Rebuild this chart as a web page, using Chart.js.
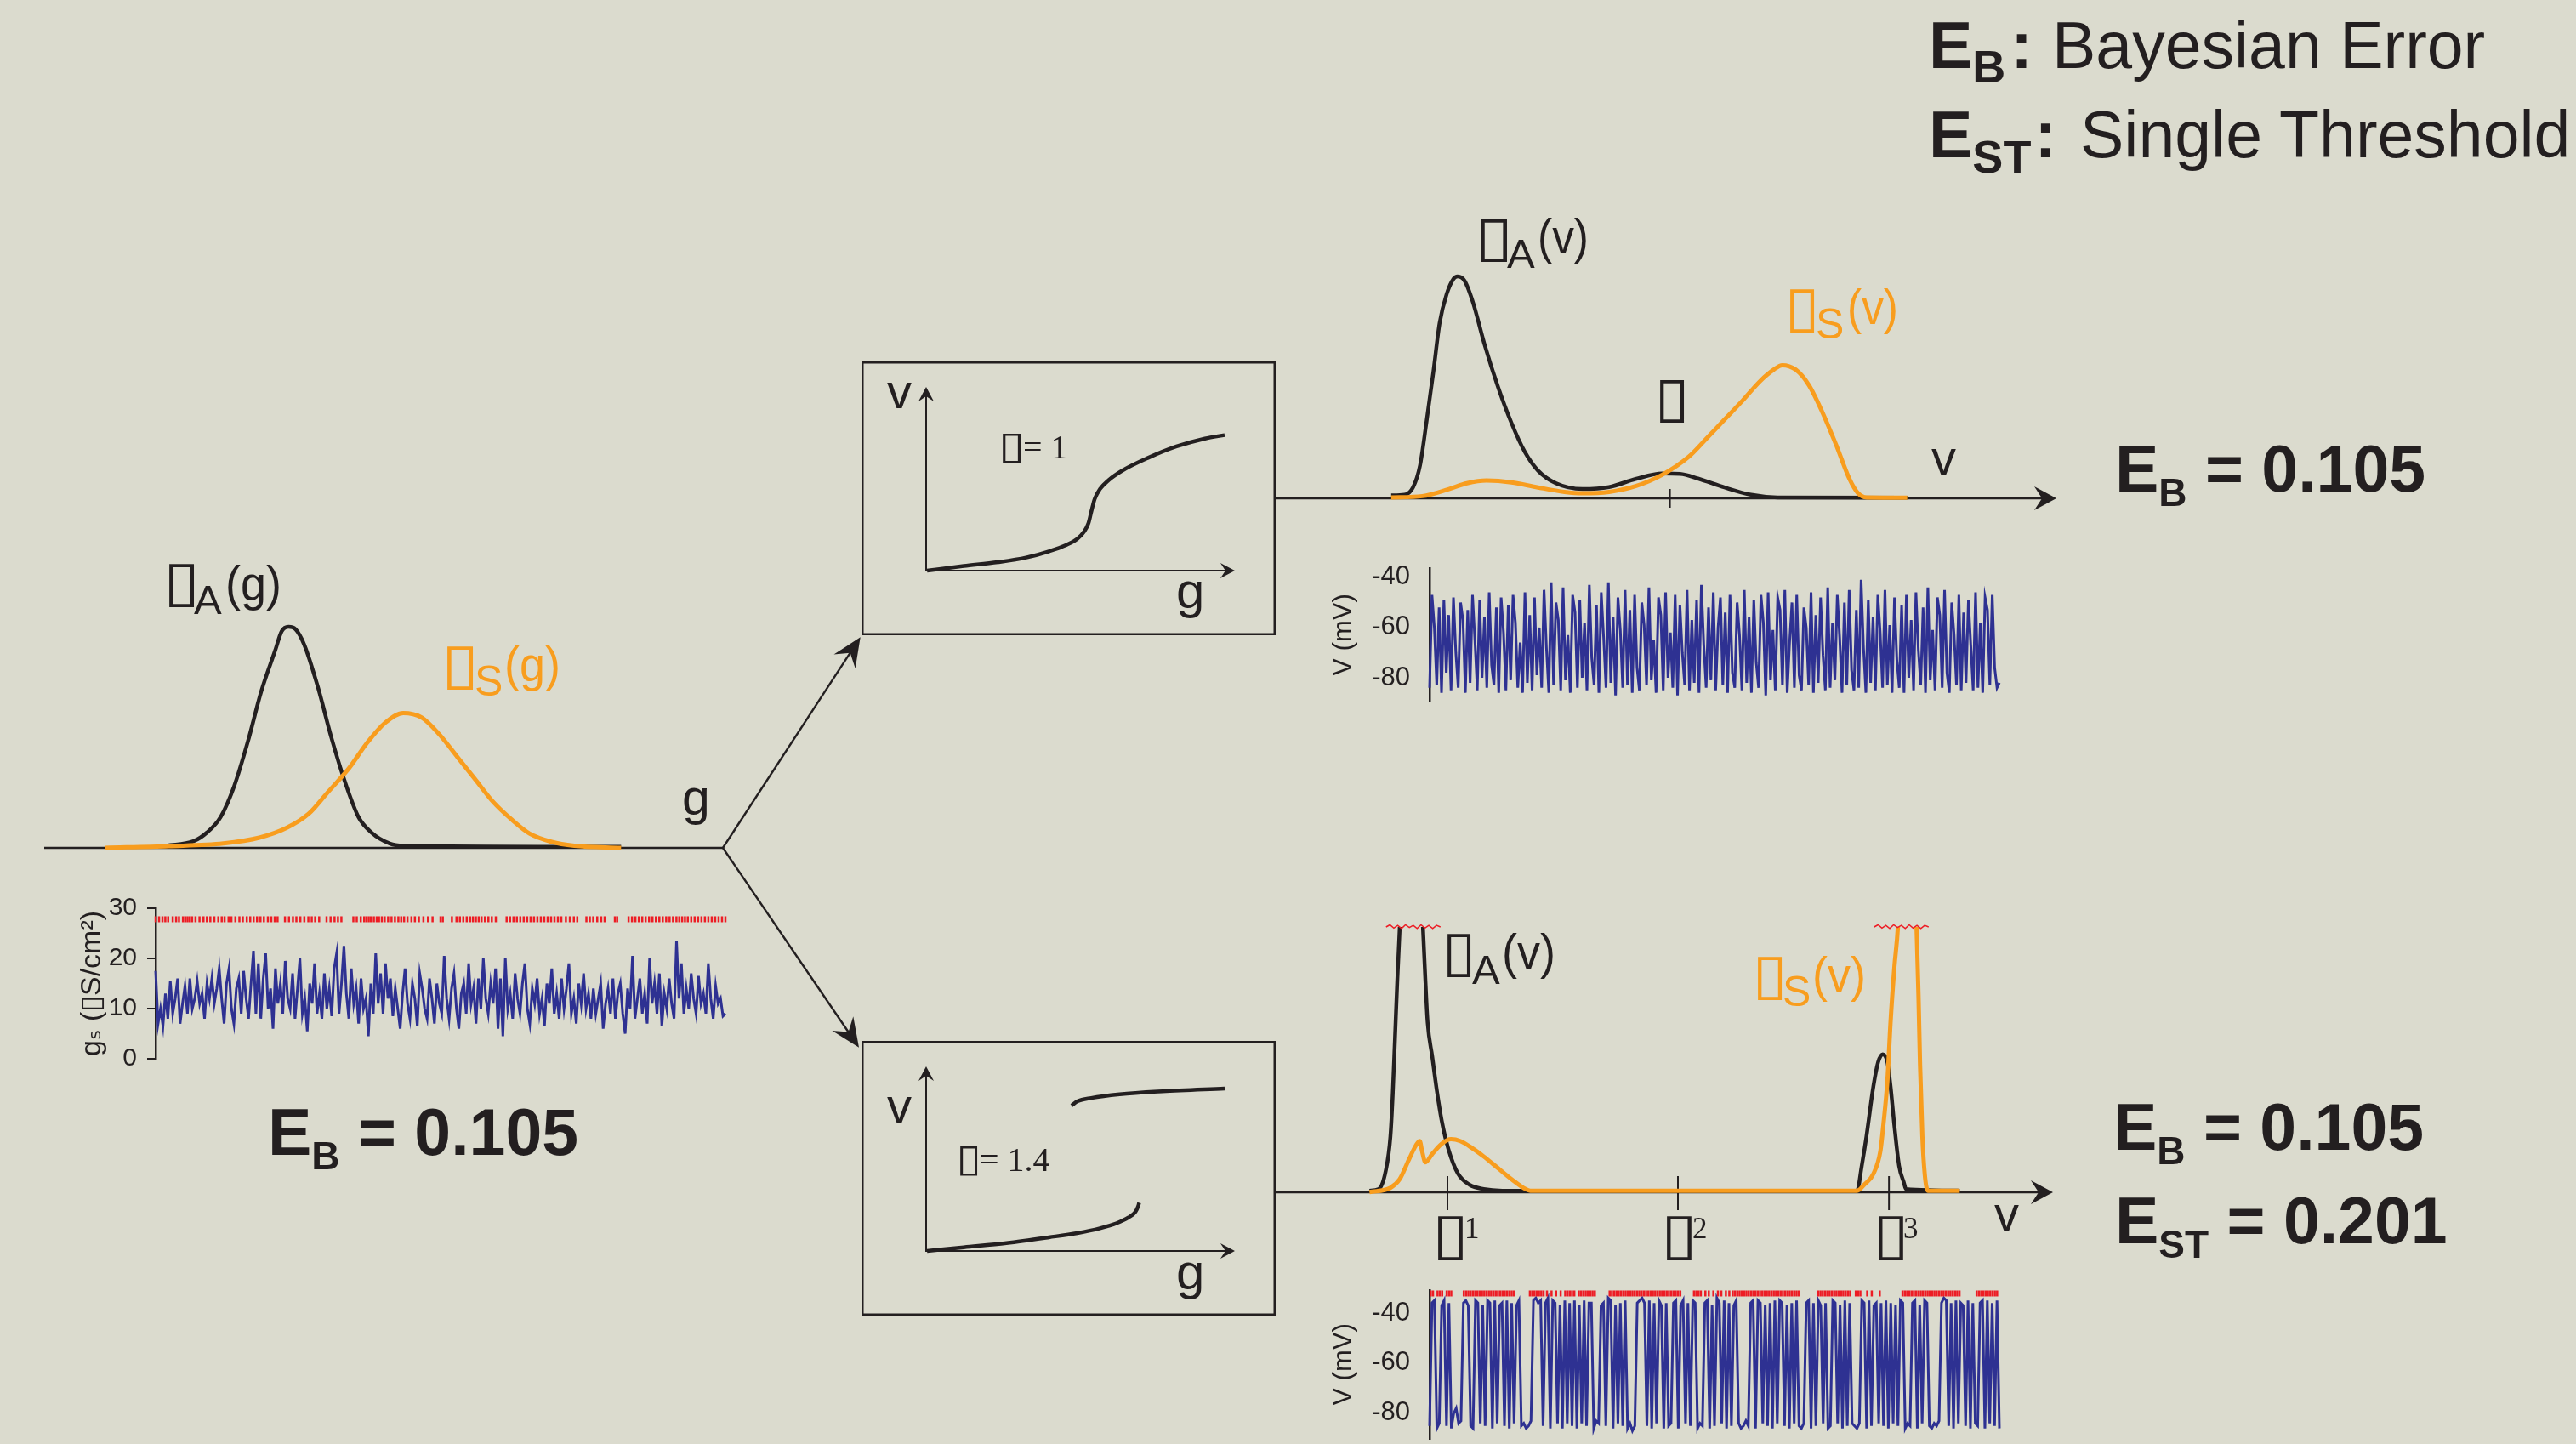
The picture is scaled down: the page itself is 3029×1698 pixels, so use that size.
<!DOCTYPE html>
<html>
<head>
<meta charset="utf-8">
<title>Bayesian error vs single threshold</title>
<script src="https://cdn.jsdelivr.net/npm/chart.js@4.4.1/dist/chart.umd.min.js"></script>
<style>
  html, body { margin: 0; padding: 0; }
  body { width: 3029px; height: 1698px; background: #DBDBCE; position: relative; overflow: hidden; }
  .panel { position: absolute; }
  #overlay { position: absolute; left: 0; top: 0; z-index: 2; pointer-events: none; }
  #overlay text { font-family: "Liberation Sans", Arial, "DejaVu Sans", sans-serif; fill: #231F20; }
  #overlay text.orange { fill: #F89D1E; }
  #overlay text.serif { font-family: "Liberation Serif", "Times New Roman", serif; }
</style>
</head>
<body>
<div class="panel" id="leftDist" style="left:40px;top:700px;width:830px;height:320px"></div>
<div class="panel" id="leftTrace" style="left:80px;top:1030px;width:790px;height:255px"></div>
<div class="panel" id="topBox" style="left:1013px;top:425px;width:487px;height:322px"></div>
<div class="panel" id="bottomBox" style="left:1013px;top:1224px;width:487px;height:323px"></div>
<div class="panel" id="topDist" style="left:1500px;top:230px;width:940px;height:380px"></div>
<div class="panel" id="bottomDist" style="left:1500px;top:1060px;width:940px;height:380px"></div>
<div class="panel" id="topTrace" style="left:1550px;top:620px;width:810px;height:250px"></div>
<div class="panel" id="bottomTrace" style="left:1550px;top:1470px;width:810px;height:270px"></div>

<svg id="overlay" width="3029" height="1698" xmlns="http://www.w3.org/2000/svg">
  <!-- legend -->
  <text x="2268" y="80" font-size="77" font-weight="bold">E<tspan font-size="54" dy="17">B</tspan><tspan dx="6" dy="-17">:</tspan></text>
  <text x="2413" y="80" font-size="77">Bayesian Error</text>
  <text x="2268" y="185" font-size="77" font-weight="bold">E<tspan font-size="54" dy="18">ST</tspan><tspan dx="4" dy="-18">:</tspan></text>
  <text x="2446" y="185" font-size="77">Single Threshold</text>

  <!-- error values -->
  <text x="315" y="1358" font-size="77" font-weight="bold">E<tspan font-size="46" dy="17">B</tspan><tspan dy="-17"> = 0.105</tspan></text>
  <text x="2487" y="578" font-size="77" font-weight="bold">E<tspan font-size="46" dy="17">B</tspan><tspan dy="-17"> = 0.105</tspan></text>
  <text x="2485" y="1352" font-size="77" font-weight="bold">E<tspan font-size="46" dy="17">B</tspan><tspan dy="-17"> = 0.105</tspan></text>
  <text x="2487" y="1462" font-size="77" font-weight="bold">E<tspan font-size="46" dy="17">ST</tspan><tspan dy="-17"> = 0.201</tspan></text>

  <!-- left distribution labels -->
  <text x="228" y="722" font-size="49">A</text>
  <text x="265" y="706" font-size="58" textLength="66" lengthAdjust="spacingAndGlyphs">(g)</text>
  <text class="orange" x="558" y="818" font-size="50">S</text>
  <text class="orange" x="593" y="801" font-size="58" textLength="66" lengthAdjust="spacingAndGlyphs">(g)</text>
  <text x="802" y="958" font-size="59">g</text>

  <!-- transfer boxes -->
  <text x="1043" y="480" font-size="58">v</text>
  <text class="serif" x="1203" y="539" font-size="40">= 1</text>
  <text x="1383" y="715" font-size="60">g</text>
  <text x="1043" y="1320" font-size="58">v</text>
  <text class="serif" x="1152" y="1377" font-size="40">= 1.4</text>
  <text x="1383" y="1516" font-size="60">g</text>

  <!-- top right distribution labels -->
  <text x="1772" y="315" font-size="49">A</text>
  <text x="1808" y="298" font-size="58" textLength="60" lengthAdjust="spacingAndGlyphs">(v)</text>
  <text class="orange" x="2135" y="398" font-size="50">S</text>
  <text class="orange" x="2172" y="381" font-size="58" textLength="60" lengthAdjust="spacingAndGlyphs">(v)</text>
  <text x="2271" y="558" font-size="58">v</text>

  <!-- bottom right distribution labels -->
  <text x="1731" y="1157" font-size="49">A</text>
  <text x="1766" y="1139" font-size="58" textLength="63" lengthAdjust="spacingAndGlyphs">(v)</text>
  <text class="orange" x="2096" y="1183" font-size="50">S</text>
  <text class="orange" x="2131" y="1166" font-size="58" textLength="63" lengthAdjust="spacingAndGlyphs">(v)</text>
  <text class="serif" x="1722" y="1456" font-size="35">1</text>
  <text class="serif" x="1990" y="1456" font-size="35">2</text>
  <text class="serif" x="2238" y="1456" font-size="35">3</text>
  <text x="2345" y="1447" font-size="58">v</text>

  <!-- fork arrows -->
  <line x1="850" y1="997" x2="999.7" y2="767.7" stroke="#231F20" stroke-width="2.4"/>
  <polygon points="1011.7,749.3 1005.7,786 999.7,767.7 980.5,769.6" fill="#231F20"/>
  <line x1="850" y1="997" x2="997.6" y2="1213.5" stroke="#231F20" stroke-width="2.4"/>
  <polygon points="1010,1231.7 978.5,1212 997.6,1213.5 1003.3,1195.2" fill="#231F20"/>
</svg>

<script>
// ---- data ----
// left: conductance distributions (arbitrary g units, peak of rho_A = 1)
const gAX = [18, 22, 24, 26, 28, 30, 32, 34, 35, 36, 37, 38.3, 40.3, 42.3, 44.3, 46.3, 48.2, 50.9, 52.9, 85];
const gAY = [0.01, 0.03, 0.07, 0.14, 0.28, 0.48, 0.71, 0.89, 0.98, 1.0, 0.99, 0.92, 0.73, 0.5, 0.3, 0.14, 0.07, 0.02, 0.01, 0.005];
const gSX = [9, 18.4, 26.4, 31.7, 35.7, 39, 41.6, 44.9, 47.6, 50.2, 52.9, 55.6, 58.2, 60.9, 63.5, 66.2, 68.8, 71.5, 74.8, 78.1, 85];
const gSY = [0, 0.008, 0.02, 0.046, 0.09, 0.155, 0.245, 0.36, 0.476, 0.565, 0.61, 0.59, 0.514, 0.41, 0.31, 0.206, 0.13, 0.065, 0.027, 0.01, 0];

// transfer functions v(g), beta = 1 and beta = 1.4
const tf1X = [0.3, 12.2, 23.2, 32.4, 39.8, 45.3, 49.0, 51.2, 52.6, 53.5, 54.6, 56.3, 59.0, 63.6, 71.9, 81.1, 90.3, 96.7];
const tf1Y = [0, 2.5, 4.6, 7.1, 10.5, 13.9, 17.4, 21.3, 25.9, 32.1, 39.0, 44.4, 49.1, 54.5, 61.4, 67.6, 71.9, 73.8];
const tfLowX = [0.3, 12.2, 26.0, 39.8, 49.0, 56.3, 61.8, 65.5, 67.8, 68.7, 69.0];
const tfLowY = [0, 2.0, 4.3, 7.4, 9.7, 12.3, 15.1, 18.1, 21.2, 24.3, 26.1];
const tfHighX = [47.1, 49.0, 53.5, 62.7, 76.5, 96.7];
const tfHighY = [78.8, 81.1, 82.9, 84.9, 86.5, 88.0];

// top right: voltage distributions, beta = 1
const vAX = [14.8, 16.5, 17.6, 18.5, 19.3, 20.2, 21.0, 21.9, 22.8, 23.3, 24.2, 25.3, 26.7, 28.5, 30.2, 31.9, 33.6, 35.9, 39.3, 42.7, 46.1, 49.5, 51.8, 54.1, 57.5, 60.9, 64.3, 80.9];
const vAY = [0.013, 0.016, 0.05, 0.15, 0.34, 0.57, 0.79, 0.92, 0.99, 1.0, 0.98, 0.88, 0.70, 0.50, 0.34, 0.21, 0.125, 0.068, 0.042, 0.051, 0.087, 0.112, 0.11, 0.089, 0.049, 0.016, 0.004, 0.003];
const vSX = [14.8, 18.8, 22.2, 24.5, 27.0, 30.2, 33.6, 37.0, 39.3, 42.7, 46.1, 49.5, 53.0, 55.2, 57.5, 59.8, 62.1, 63.8, 64.9, 66.6, 68.3, 70.0, 71.8, 73.5, 74.6, 75.7, 80.9];
const vSY = [0.004, 0.01, 0.042, 0.068, 0.08, 0.072, 0.049, 0.029, 0.023, 0.029, 0.055, 0.106, 0.19, 0.27, 0.355, 0.44, 0.53, 0.58, 0.6, 0.58, 0.51, 0.39, 0.24, 0.087, 0.023, 0.004, 0.003];
const thetaTop = [50.5];

// bottom right: voltage distributions, beta = 1.4 (peaks run off the top)
const wAX = [12.06, 13.25, 14.16, 14.76, 15.06, 15.35, 15.65, 15.95, 16.6, 17.45, 18.3, 18.96, 19.26, 19.55, 20.15, 20.75, 21.36, 22.25, 23.46, 24.96, 26.76, 29.16, 74.8, 75.4, 76.0, 76.9, 77.5, 78.1, 78.7, 79.1, 79.6, 80.2, 80.8, 81.1, 88.0];
const wAY = [0.006, 0.012, 0.081, 0.21, 0.37, 0.58, 0.80, 0.99, 1.5, 1.7, 1.5, 0.99, 0.80, 0.64, 0.51, 0.38, 0.27, 0.16, 0.07, 0.028, 0.012, 0.006, 0.006, 0.10, 0.21, 0.40, 0.49, 0.52, 0.49, 0.40, 0.25, 0.10, 0.038, 0.012, 0.006];
const wSX = [12.06, 14.76, 15.95, 17.15, 18.05, 18.53, 18.83, 19.26, 20.15, 21.36, 22.55, 23.75, 25.25, 26.76, 28.56, 30.36, 32.16, 32.76, 74.8, 75.7, 76.9, 77.8, 78.2, 78.7, 79.1, 79.6, 80.05, 80.8, 81.25, 81.7, 82.45, 82.7, 82.9, 83.2, 83.5, 83.9, 88.0];
const wSY = [0.001, 0.017, 0.049, 0.124, 0.177, 0.193, 0.156, 0.113, 0.145, 0.183, 0.20, 0.193, 0.167, 0.135, 0.092, 0.049, 0.012, 0.006, 0.006, 0.028, 0.07, 0.156, 0.26, 0.42, 0.64, 0.85, 1.0, 1.5, 1.6, 1.5, 1.0, 0.74, 0.48, 0.21, 0.07, 0.006, 0.006];
const thetaBottom = [22.1, 51.75, 78.9];
const cutAX = [14.2, 14.7, 15.2, 15.7, 16.2, 16.7, 17.2, 17.7, 18.2, 18.7, 19.2, 19.7, 20.2, 20.7, 21.2];
const cutBX = [77.0, 77.5, 78.0, 78.5, 79.0, 79.5, 80.0, 80.5, 81.0, 81.5, 82.0, 82.5, 83.0, 83.5, 84.0];
const cutY = [1.0, 1.008, 0.996, 1.006, 0.994, 1.008, 0.998, 1.006, 0.994, 1.008, 0.996, 1.006, 0.994, 1.006, 1.0];

// traces (time 0..1000 across the panel)
const gTicks = [0, 10, 20, 30];
const vTicks = [-80, -60, -40];
const gSpikeLevel = 27.8;
const vSpikeLevel = -32.2;

const gTrace = [
  17.5, 7, 10, 6.5, 13, 8, 15.5, 9, 12, 16, 7, 11, 14.5, 9, 16, 10, 12, 15.5, 11, 13,
  8, 15, 12, 16, 11, 14, 18, 12, 7, 15, 18, 10, 7, 14, 16, 9, 17.5, 12, 8, 15,
  21.5, 9, 19, 8, 16, 21, 10, 14, 6, 18, 11, 15, 9, 19.5, 12, 10, 17, 8, 14, 20,
  9, 12, 5.5, 15, 11, 19, 9, 13, 8, 17, 10, 14, 8.5, 18, 21, 9, 15, 22.5, 13, 8,
  18, 11, 14, 7, 16, 10, 12, 4.5, 15, 9, 21, 11, 17, 9, 19, 12, 16, 8.5, 14, 10,
  6, 13, 18, 11, 8, 15, 12, 6.5, 17, 14, 10, 8, 16, 12, 7, 15, 11, 9, 20.5, 12,
  8, 14, 17, 10, 6, 13, 15, 9, 19, 11, 14, 7, 16, 10, 20, 12, 9, 15, 11, 18,
  6, 16, 4.5, 20, 10, 13, 8, 17, 12, 9, 15, 19, 10, 7, 14, 11, 16, 9, 12, 6.5,
  15, 11, 18, 9, 13, 8, 16, 10, 14, 19, 9, 12, 7, 15, 11, 17, 10, 13, 8, 14,
  9, 12, 15, 6, 11, 14, 9, 16, 8, 13, 15, 9, 5, 14, 10, 20.5, 8, 12, 16, 9,
  13, 7, 20, 11, 15, 9, 17, 6.5, 13, 10, 16, 11, 8, 23.5, 12, 19, 9, 14, 10, 17,
  12, 9, 16.5, 11, 13, 9, 19, 12, 8, 14.5, 11, 12, 8.5, 9
];
const gSpikes = [0, 6, 12, 17, 22, 30, 36, 41, 48, 52, 56, 60, 64, 70, 77, 84, 90, 96, 103, 110, 116, 121, 128, 133, 140, 147, 153, 160, 166, 172, 178, 184, 190, 197, 203, 209, 214, 227, 234, 241, 247, 254, 261, 268, 274, 280, 287, 300, 307, 314, 320, 326, 347, 353, 360, 366, 370, 374, 378, 383, 388, 392, 397, 402, 408, 414, 420, 426, 431, 436, 442, 449, 455, 462, 470, 478, 486, 500, 504, 520, 528, 534, 540, 546, 552, 557, 562, 567, 572, 578, 584, 590, 597, 616, 622, 628, 634, 640, 646, 652, 658, 664, 670, 676, 682, 688, 694, 700, 706, 712, 720, 727, 734, 740, 756, 762, 768, 775, 782, 788, 806, 810, 830, 836, 842, 848, 854, 860, 866, 872, 878, 884, 890, 896, 902, 908, 914, 919, 924, 929, 934, 940, 946, 952, 958, 964, 970, 976, 982, 988, 994, 1000];

const vTraceTop = [
  -84, -47, -60, -83, -52, -86, -49, -78, -55, -85, -48, -70, -84, -50, -57, -86, -53, -82, -47, -65, -85, -49, -80, -56, -84, -46, -75, -83, -52, -86, -48, -62, -85, -51, -81, -47, -58, -84, -66, -86,
  -46, -82, -55, -85, -48, -79, -60, -84, -45, -68, -86, -42, -83, -50, -57, -85, -44, -81, -63, -86, -47, -54, -84, -49, -80, -58, -85, -43, -72, -83, -51, -86, -46, -64, -84, -42, -82, -56, -87, -48,
  -61, -84, -45, -83, -53, -86, -47, -76, -85, -50, -59, -83, -44, -81, -65, -86, -48, -55, -85, -46, -80, -62, -84, -47, -87, -51, -70, -83, -45, -85, -57, -82, -49, -86, -43, -67, -84, -52, -81, -46,
  -85, -60, -48, -83, -54, -86, -47, -78, -84, -50, -63, -85, -45, -82, -56, -86, -49, -74, -84, -47, -58, -87, -46, -81, -61, -85, -48, -53, -83, -45, -86, -66, -50, -84, -47, -79, -85, -52, -60, -83,
  -46, -86, -55, -82, -48, -71, -85, -44, -84, -58, -81, -47, -64, -86, -50, -83, -45, -77, -85, -53, -84, -41, -68, -86, -49, -82, -56, -85, -47, -62, -84, -45, -83, -59, -86, -48, -73, -84, -51, -86,
  -47, -80, -57, -85, -46, -69, -83, -52, -86, -44, -81, -61, -85, -48, -55, -84, -45, -78, -86, -50, -63, -83, -47, -85, -54, -82, -49, -67, -85, -46, -84, -58, -86, -48, -53, -83, -47, -76, -84, -82
];
const vSpikesTop = [0, 4, 9, 14, 18, 23, 27, 32, 36, 40, 46, 52, 56, 60, 64, 68, 72, 76, 80, 86, 92, 97, 102, 108, 114, 120, 126, 132, 138, 144, 150, 170, 175, 180, 186, 192, 198, 204, 210, 216, 230, 236, 242, 248, 254, 260, 266, 272, 278, 284, 290, 296, 302, 308, 314, 320, 326, 332, 345, 350, 355, 360, 365, 370, 375, 380, 385, 390, 395, 400, 405, 410, 415, 420, 425, 430, 436, 442, 460, 466, 475, 480, 495, 502, 508, 514, 520, 526, 532, 538, 544, 550, 556, 562, 568, 574, 580, 586, 592, 598, 604, 610, 616, 622, 628, 634, 640, 646, 652, 660, 668, 676, 684, 690, 696, 702, 708, 714, 740, 746, 752, 758, 764, 775, 782, 820, 826, 832, 838, 844, 850, 856, 862, 868, 874, 880, 886, 892, 898, 904, 910, 916, 922, 935, 941, 947, 953, 959, 965, 975, 981, 987, 993, 999];

const vTraceBottom = [
  -85, -36, -35, -86, -84, -37, -35, -85, -36, -86, -80, -78, -84, -83, -36, -35, -37, -85, -86, -35, -36, -84, -37, -85, -35, -36, -86, -35, -84, -37,
  -36, -85, -35, -86, -36, -84, -37, -35, -85, -84, -86, -85, -83, -35, -34, -36, -35, -85, -36, -34, -86, -35, -36, -84, -37, -86, -35, -84, -36, -85,
  -35, -86, -37, -84, -35, -85, -36, -36, -86, -83, -84, -37, -36, -85, -34, -35, -86, -37, -84, -36, -85, -35, -86, -84, -87, -85, -36, -35, -34, -36,
  -85, -35, -86, -36, -84, -35, -37, -86, -36, -85, -84, -36, -35, -86, -37, -35, -84, -36, -85, -35, -36, -86, -84, -85, -36, -35, -86, -37, -85, -34,
  -36, -84, -35, -86, -36, -85, -37, -35, -84, -86, -85, -83, -85, -36, -35, -86, -35, -36, -84, -37, -85, -36, -86, -35, -84, -35, -36, -85, -37, -86,
  -36, -84, -35, -85, -86, -84, -36, -35, -86, -36, -85, -35, -37, -84, -36, -86, -85, -35, -36, -84, -37, -86, -35, -85, -36, -84, -85, -86, -84, -35,
  -36, -86, -35, -85, -37, -36, -84, -36, -85, -35, -86, -36, -84, -37, -85, -35, -36, -86, -84, -85, -36, -35, -86, -37, -84, -35, -36, -85, -86, -84,
  -85, -83, -36, -34, -35, -85, -36, -86, -35, -84, -36, -37, -85, -35, -86, -36, -84, -85, -36, -35, -86, -35, -84, -36, -85, -35, -86
];
const vSpikesBottom = [2, 6, 14, 18, 22, 30, 34, 38, 60, 64, 68, 72, 76, 80, 84, 88, 92, 96, 100, 104, 108, 112, 116, 120, 124, 128, 132, 136, 140, 144, 148, 176, 180, 184, 188, 192, 196, 200, 206, 214, 222, 230, 238, 242, 246, 250, 254, 262, 266, 270, 274, 278, 282, 286, 290, 316, 320, 324, 328, 332, 336, 340, 344, 348, 352, 356, 360, 364, 368, 372, 376, 380, 384, 388, 392, 396, 400, 404, 408, 412, 416, 420, 424, 428, 432, 436, 440, 464, 468, 472, 476, 484, 490, 498, 506, 512, 520, 526, 532, 536, 540, 544, 548, 552, 556, 560, 564, 568, 572, 576, 580, 584, 588, 592, 596, 600, 604, 608, 612, 616, 620, 624, 628, 632, 636, 640, 644, 648, 682, 686, 690, 694, 698, 702, 706, 710, 714, 718, 722, 726, 730, 734, 738, 748, 752, 756, 768, 776, 790, 830, 834, 838, 842, 846, 850, 854, 858, 862, 866, 870, 874, 878, 882, 886, 890, 894, 898, 902, 906, 910, 914, 918, 922, 926, 930, 960, 964, 968, 972, 976, 980, 984, 988, 992, 996];

// ---- styling ----
const ink = '#231F20';
const orange = '#F89D1E';
const blue = '#2E3192';
const red = '#ED1C24';
const sans = '"Liberation Sans", Arial, "DejaVu Sans", sans-serif';
const TIME_SPAN = 1000;

// tofu boxes standing in for the greek letters (left, top, width, height)
const tofuBoxes = [
  [199, 663, 29, 52, ink], [526, 760, 30, 52, orange],
  [1179, 510, 21, 35, ink], [1129, 1348, 20, 35, ink],
  [1741, 257, 31, 51, ink], [2105, 340, 28, 52, orange], [1952, 446, 28, 51, ink],
  [1702, 1098, 27, 52, ink], [2067, 1125, 28, 52, orange],
  [1691, 1430, 29, 53, ink], [1960, 1430, 29, 53, ink], [2209, 1430, 29, 53, ink],
];

function xy(xs, ys) {
  return xs.map((x, i) => ({ x, y: ys[i] }));
}

function timeSeries(values) {
  return values.map((v, i) => ({ x: i * TIME_SPAN / (values.length - 1), y: v }));
}

function curve(xs, ys, color, width, clip = false) {
  return {
    data: xy(xs, ys),
    borderColor: color,
    borderWidth: width,
    pointRadius: 0,
    cubicInterpolationMode: 'monotone',
    clip,
  };
}

function baseOptions(padding) {
  return {
    responsive: true,
    maintainAspectRatio: false,
    animation: false,
    events: [],
    devicePixelRatio: 1,
    layout: { padding },
    plugins: { legend: { display: false }, tooltip: { enabled: false } },
  };
}

function arrowHead(ctx, tx, ty, dx, dy, len, half) {
  const nx = -dy, ny = dx;
  ctx.beginPath();
  ctx.moveTo(tx, ty);
  ctx.lineTo(tx - dx * len + nx * half, ty - dy * len + ny * half);
  ctx.lineTo(tx - dx * len * 0.65, ty - dy * len * 0.65);
  ctx.lineTo(tx - dx * len - nx * half, ty - dy * len - ny * half);
  ctx.closePath();
  ctx.fill();
}

// horizontal base line (with optional arrow and threshold ticks)
const baseAxis = {
  id: 'baseAxis',
  beforeDatasetsDraw(chart, args, opts) {
    const { ctx, chartArea, scales: { x, y } } = chart;
    const y0 = y.getPixelForValue(0);
    const x0 = x.getPixelForValue(opts.from);
    const x1 = opts.arrow ? chartArea.right : x.getPixelForValue(opts.to);
    ctx.save();
    ctx.strokeStyle = ink;
    ctx.fillStyle = ink;
    ctx.lineWidth = 2.4;
    ctx.beginPath();
    ctx.moveTo(x0, y0);
    ctx.lineTo(opts.arrow ? x1 - opts.arrow * 0.6 : x1, y0);
    ctx.stroke();
    if (opts.arrow) arrowHead(ctx, x1, y0, 1, 0, opts.arrow, opts.arrowHalf);
    ctx.lineWidth = 2;
    (opts.ticks || []).forEach(t => {
      const px = x.getPixelForValue(t);
      ctx.beginPath();
      ctx.moveTo(px, y0 - opts.tickUp);
      ctx.lineTo(px, y0 + opts.tickDown);
      ctx.stroke();
    });
    ctx.restore();
  }
};

// frame and v-g axes of the transfer function boxes
const boxFrame = {
  id: 'boxFrame',
  beforeDatasetsDraw(chart) {
    const { ctx, chartArea: a, width, height } = chart;
    ctx.save();
    ctx.strokeStyle = ink;
    ctx.fillStyle = ink;
    ctx.lineWidth = 2.5;
    ctx.strokeRect(1.25, 1.25, width - 2.5, height - 2.5);
    ctx.lineWidth = 2;
    ctx.beginPath();
    ctx.moveTo(a.left, a.top + 10);
    ctx.lineTo(a.left, a.bottom);
    ctx.lineTo(a.right - 10, a.bottom);
    ctx.stroke();
    arrowHead(ctx, a.left, a.top, 0, -1, 17, 9);
    arrowHead(ctx, a.right, a.bottom, 1, 0, 17, 9);
    ctx.restore();
  }
};

function mount(id) {
  const canvas = document.createElement('canvas');
  document.getElementById(id).appendChild(canvas);
  return canvas;
}

// Left: rho_A(g), rho_S(g)
function createLeftDist() {
  new Chart(mount('leftDist'), {
    type: 'line',
    data: { datasets: [curve(gSX, gSY, orange, 5), curve(gAX, gAY, ink, 4.5)] },
    options: {
      ...baseOptions({ left: 12, right: 20, top: 37, bottom: 23 }),
      scales: {
        x: { type: 'linear', display: false, min: 0, max: 100 },
        y: { display: false, min: 0, max: 1 },
      },
      plugins: { legend: { display: false }, tooltip: { enabled: false }, baseAxis: { from: 0, to: 100 } },
    },
    plugins: [baseAxis],
  });
}

// Transfer function boxes
function createBox(id, datasets, padding) {
  new Chart(mount(id), {
    type: 'line',
    data: { datasets },
    options: {
      ...baseOptions(padding),
      scales: {
        x: { type: 'linear', display: false, min: 0, max: 100 },
        y: { display: false, min: 0, max: 100 },
      },
    },
    plugins: [boxFrame],
  });
}

// Right: rho_A(v), rho_S(v)
function createVoltDist(id, datasets, padding, thetas, tickUp, tickDown, arrowTip) {
  new Chart(mount(id), {
    type: 'line',
    data: { datasets },
    options: {
      ...baseOptions(padding),
      scales: {
        x: { type: 'linear', display: false, min: 0, max: 100 },
        y: { display: false, min: 0, max: 1 },
      },
      plugins: {
        legend: { display: false }, tooltip: { enabled: false },
        baseAxis: { from: 0, arrow: arrowTip, arrowHalf: 14, ticks: thetas, tickUp, tickDown },
      },
    },
    plugins: [baseAxis],
  });
}

// Noisy traces with spike raster
function createTrace(id, values, spikes, spikeLevel, o) {
  new Chart(mount(id), {
    type: 'line',
    data: {
      datasets: [
        {
          data: spikes.map(t => ({ x: t, y: spikeLevel })),
          showLine: false,
          pointStyle: 'line',
          rotation: 90,
          pointRadius: 3.5,
          borderColor: red,
          borderWidth: 2.5,
          clip: false,
        },
        {
          data: timeSeries(values),
          borderColor: blue,
          borderWidth: 3,
          pointRadius: 0,
          tension: 0,
          clip: false,
        },
      ]
    },
    options: {
      ...baseOptions(o.padding),
      scales: {
        x: { type: 'linear', display: false, min: 0, max: TIME_SPAN },
        y: {
          min: o.min,
          max: o.max,
          afterFit: s => { s.width = o.axisWidth; },
          afterBuildTicks: s => { s.ticks = o.ticks.map(v => ({ value: v })); },
          border: { display: true, color: ink, width: 2.5 },
          grid: {
            display: o.tickLength > 0,
            drawOnChartArea: false,
            drawTicks: o.tickLength > 0,
            tickLength: o.tickLength,
            color: ink,
            lineWidth: 2,
          },
          ticks: { color: ink, padding: o.labelPad, font: { size: o.tickSize, family: sans } },
          title: {
            display: true,
            text: o.title,
            color: ink,
            font: { size: o.titleSize, family: sans },
            padding: { top: o.titlePad, bottom: 0 },
          },
        },
      },
    },
  });
}

function placeTofu() {
  const svg = document.getElementById('overlay');
  const c = document.createElement('canvas').getContext('2d');
  c.font = '100px "DejaVu Sans"';
  const m = c.measureText('▯');
  const inkW = m.actualBoundingBoxLeft + m.actualBoundingBoxRight;
  const inkH = m.actualBoundingBoxAscent + m.actualBoundingBoxDescent;
  tofuBoxes.forEach(([x, y, w, h, col]) => {
    const sx = w / inkW, sy = h / inkH;
    const t = document.createElementNS('http://www.w3.org/2000/svg', 'text');
    t.textContent = '▯';
    t.setAttribute('style', 'font-family:"DejaVu Sans";font-size:100px;fill:' + col);
    const ox = x + m.actualBoundingBoxLeft * sx;
    const oy = y + m.actualBoundingBoxAscent * sy;
    t.setAttribute('transform', `translate(${ox},${oy}) scale(${sx},${sy})`);
    svg.appendChild(t);
  });
}

createLeftDist();

createBox('topBox', [curve(tf1X, tf1Y, ink, 4.5)], { left: 76, right: 48, top: 30, bottom: 76 });
createBox('bottomBox', [curve(tfLowX, tfLowY, ink, 4.5), curve(tfHighX, tfHighY, ink, 4.5)],
  { left: 76, right: 48, top: 30, bottom: 76 });

createVoltDist('topDist', [curve(vSX, vSY, orange, 5), curve(vAX, vAY, ink, 4.5)],
  { left: 0, right: 22, top: 95, bottom: 24 }, thetaTop, 11, 11, 26);

const topClip = { left: 20, right: 20, bottom: 20, top: 0 };
createVoltDist('bottomDist', [
  { data: xy(cutAX, cutY), borderColor: red, borderWidth: 1.5, pointRadius: 0, clip: false },
  { data: xy(cutBX, cutY), borderColor: red, borderWidth: 1.5, pointRadius: 0, clip: false },
  curve(wSX, wSY, orange, 5, topClip),
  curve(wAX, wAY, ink, 4.5, topClip),
], { left: 0, right: 26, top: 30, bottom: 38 }, thetaBottom, 19, 21, 26);

// chart areas: left trace 1068..1245, top trace 668..825, bottom trace 1517..1692
createTrace('leftTrace', gTrace, gSpikes, gSpikeLevel, {
  padding: { left: 0, right: 17, top: 38, bottom: 40 },
  min: 0, max: 30, ticks: gTicks, axisWidth: 103, tickLength: 10, labelPad: 12, tickSize: 30,
  title: 'gₛ (▯S/cm²)', titleSize: 34, titlePad: 8,
});
createTrace('topTrace', vTraceTop, vSpikesTop, vSpikeLevel, {
  padding: { left: 0, right: 9, top: 48, bottom: 45 },
  min: -89.5, max: -36.3, ticks: vTicks, axisWidth: 131, tickLength: 0, labelPad: 23, tickSize: 31,
  title: 'V (mV)', titleSize: 31, titlePad: 12,
});
createTrace('bottomTrace', vTraceBottom, vSpikesBottom, vSpikeLevel, {
  padding: { left: 0, right: 9, top: 47, bottom: 48 },
  min: -90.2, max: -30.85, ticks: vTicks, axisWidth: 131, tickLength: 0, labelPad: 23, tickSize: 31,
  title: 'V (mV)', titleSize: 31, titlePad: 12,
});

placeTofu();
</script>
</body>
</html>
